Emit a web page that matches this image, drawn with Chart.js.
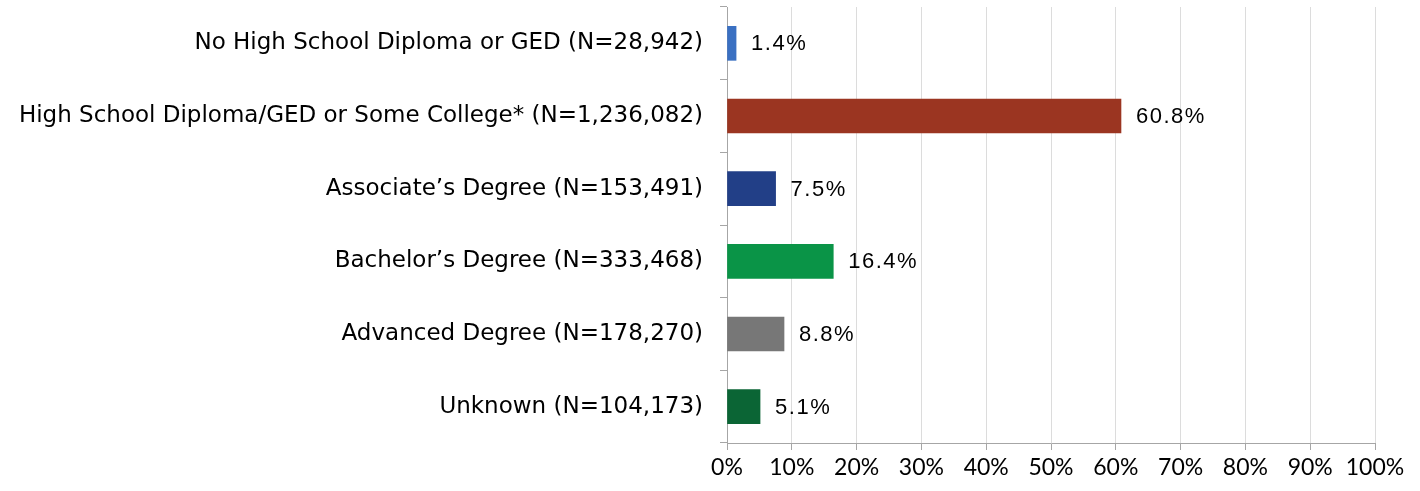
<!DOCTYPE html>
<html>
<head>
<meta charset="utf-8">
<script src="https://cdn.jsdelivr.net/npm/chart.js@4.4.1/dist/chart.umd.min.js"></script>
<style>
  html, body { margin: 0; padding: 0; background: #fff; overflow: hidden; }
  canvas { display: block; }
</style>
</head>
<body>
<canvas id="eduChart" width="1420" height="491"></canvas>
<script>
/* ======================================
   DATA
====================================== */
const categories = [
    "No High School Diploma or GED (N=28,942)",
    "High School Diploma/GED or Some College* (N=1,236,082)",
    "Associate\u2019s Degree (N=153,491)",
    "Bachelor\u2019s Degree (N=333,468)",
    "Advanced Degree (N=178,270)",
    "Unknown (N=104,173)"
];
const shares = [1.4, 60.8, 7.5, 16.4, 8.8, 5.1];
const barColors = ["#3a70c2", "#9b3521", "#223f87", "#0a9447", "#777777", "#0b6535"];
const xTicks = [0, 10, 20, 30, 40, 50, 60, 70, 80, 90, 100];


/* ======================================
   VALUE LABEL PLUGIN
====================================== */
const valueLabels = {
    id: "valueLabels",
    afterDatasetsDraw(chart) {
        const ctx = chart.ctx;
        const meta = chart.getDatasetMeta(0);
        ctx.save();
        ctx.font = "22px 'Liberation Sans', Arial, sans-serif";
        ctx.fillStyle = "#000";
        ctx.textBaseline = "middle";
        ctx.textAlign = "left";
        meta.data.forEach((bar, i) => {
            const txt = shares[i].toFixed(1) + "%";
            let x = bar.x + 15;
            for (const ch of txt) {
                ctx.fillText(ch, x, bar.y + 1);
                x += ctx.measureText(ch).width + 1.5;
            }
        });
        ctx.restore();
    }
};


/* ======================================
   CHART
====================================== */
const ctx = document.getElementById("eduChart").getContext("2d");

new Chart(ctx, {
    type: "bar",
    data: {
        labels: categories,
        datasets: [{
            data: shares,
            backgroundColor: barColors,
            borderWidth: 0,
            barThickness: 34
        }]
    },
    plugins: [valueLabels],
    options: {
        indexAxis: "y",
        responsive: false,
        maintainAspectRatio: false,
        animation: false,
        devicePixelRatio: 1,
        layout: { padding: { top: 7, right: 45, left: 0, bottom: 0 } },
        plugins: {
            legend: { display: false },
            tooltip: { enabled: false }
        },
        scales: {
            x: {
                min: 0,
                max: 100,
                afterBuildTicks: axis => { axis.ticks = xTicks.map(v => ({ value: v })); },
                afterFit: axis => { axis.height = 48; },
                grid: {
                    color: "#dcdcdc",
                    tickColor: "#a6a6a6",
                    tickLength: 7,
                    lineWidth: 1
                },
                border: { color: "#a6a6a6", width: 1 },
                ticks: {
                    callback: v => v + "%",
                    color: "#000",
                    padding: 4,
                    maxRotation: 0,
                    font: { family: "Lato, 'Open Sans', sans-serif", size: 23 }
                }
            },
            y: {
                afterFit: axis => {
                    axis.width = 727;
                    axis.paddingTop = 0;
                    axis.paddingBottom = 0;
                },
                grid: {
                    offset: true,
                    drawOnChartArea: false,
                    color: "#a6a6a6",
                    tickLength: 7
                },
                border: { color: "#a6a6a6", width: 1 },
                ticks: {
                    color: "#000",
                    padding: 17,
                    font: { family: "'DejaVu Sans', sans-serif", size: 23 }
                }
            }
        }
    }
});
</script>
</body>
</html>
